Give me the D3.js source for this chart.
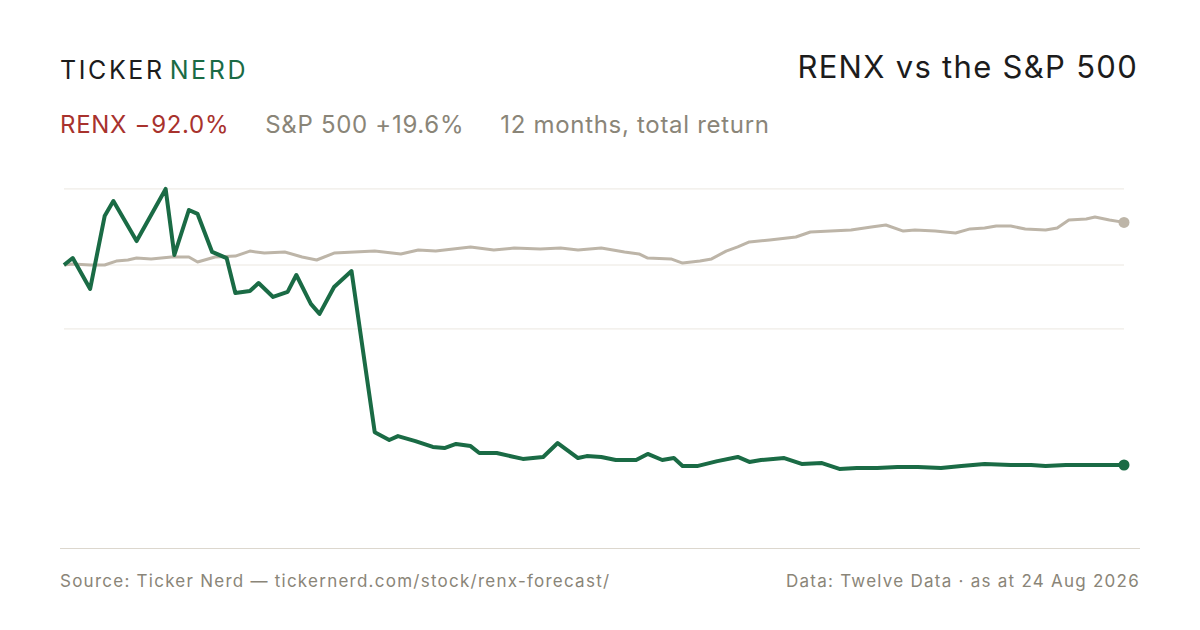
<!DOCTYPE html>
<html>
<head>
<meta charset="utf-8">
<script src="https://cdn.jsdelivr.net/npm/d3@7"></script>
<style>
  body { margin: 0; background: #fff; }
  svg { display: block; font-family: Inter, "Noto Sans", sans-serif; }
</style>
</head>
<body>
<svg id="chart" width="1200" height="630"></svg>
<script>
// days since start, % total return
var renxDays = [0,3,9,14,17,25,35,38,43,46,51,56,59,64,67,72,77,80,85,88,93,99,107,112,115,121,127,131,135,140,143,149,158,165,170,177,180,185,190,197,201,206,210,213,218,225,232,236,240,248,254,261,267,273,280,287,294,302,309,317,326,333,338,345,352,357,365];
var renxReturn = [0,3.2,-11,22.5,29.4,11,35,4.6,25.3,23.5,6,3.2,-12.9,-12,-8.3,-14.7,-12.4,-4.6,-17.9,-22.5,-10.1,-2.8,-76.9,-80.5,-78.7,-81,-83.7,-84.2,-82.3,-83.3,-86.5,-86.5,-89.2,-88.3,-81.9,-88.8,-87.9,-88.3,-89.7,-89.7,-86.9,-89.7,-88.8,-92.5,-92.5,-90.2,-88.3,-90.6,-89.7,-88.8,-91.5,-91.1,-93.8,-93.4,-93.4,-92.9,-92.9,-93.4,-92.5,-91.5,-92,-92,-92.5,-92,-92,-92,-92];
var spxDays = [0,3,9,14,18,22,25,30,37,43,46,52,59,64,69,76,82,87,93,100,107,116,122,128,140,148,155,164,171,177,185,193,198,201,209,213,219,223,228,232,236,243,252,257,264,271,278,283,289,293,300,307,312,317,321,326,331,338,342,346,352,355,360,365];
var spxReturn = [0,0.5,0,0,1.8,2.3,3.2,2.8,3.7,3.7,1.4,3.7,4.1,6.4,5.5,6,3.7,2.3,5.5,6,6.4,5.1,6.9,6.4,8.3,6.9,7.8,7.4,7.8,6.9,7.8,6,5.1,3.2,2.8,0.9,1.8,2.8,6.4,8.3,10.6,11.5,12.9,15.2,15.6,16.1,17.5,18.4,15.6,16.1,15.6,14.7,16.6,17,17.9,17.9,16.6,16.1,17,20.7,21.2,22.1,20.7,19.6];
var gridValues = [35, 0, -29.4];

var svg = d3.select('#chart');
var x = d3.scaleLinear().domain([0, 365]).range([64, 1124]);
var y = d3.scaleLinear().domain([-92, 0]).range([465, 265]);

// header
svg.append('text').attr('x', 60).attr('y', 79).attr('font-size', 25).attr('letter-spacing', 2.6)
  .attr('fill', '#1c1c1c').text('TICKER')
  .append('tspan').attr('fill', '#1a6b45').attr('dx', 5).text('NERD');
svg.append('text').attr('x', 1138).attr('y', 78).attr('text-anchor', 'end').attr('font-size', 31)
  .attr('letter-spacing', 1.3).attr('fill', '#1c1c1c').text('RENX vs the S&P 500');
var sub = svg.append('text').attr('x', 60).attr('y', 133).attr('font-size', 24).attr('letter-spacing', 0.7);
sub.append('tspan').attr('fill', '#a8322d').text('RENX \u221292.0%');
sub.append('tspan').attr('fill', '#8a8578').attr('dx', 36).text('S&P 500 +19.6%');
sub.append('tspan').attr('fill', '#8a8578').attr('dx', 36).text('12 months, total return');

// grid
svg.selectAll('.grid').data(gridValues).enter().append('line')
  .attr('x1', 64).attr('x2', 1124)
  .attr('y1', function (d) { return y(d); }).attr('y2', function (d) { return y(d); })
  .attr('stroke', '#ebe7e0').attr('stroke-width', 1);

var line = d3.line()
  .x(function (d) { return x(d[0]); })
  .y(function (d) { return y(d[1]); });

var spx = d3.zip(spxDays, spxReturn);
var renx = d3.zip(renxDays, renxReturn);

svg.append('path').datum(spx).attr('d', line).attr('fill', 'none')
  .attr('stroke', '#bdb5a8').attr('stroke-width', 3).attr('stroke-linejoin', 'round');
svg.append('path').datum(renx).attr('d', line).attr('fill', 'none')
  .attr('stroke', '#1a6b45').attr('stroke-width', 4).attr('stroke-linejoin', 'round');

svg.append('circle').attr('cx', x(spx[spx.length - 1][0])).attr('cy', y(spx[spx.length - 1][1]))
  .attr('r', 5.5).attr('fill', '#bdb5a8');
svg.append('circle').attr('cx', x(renx[renx.length - 1][0])).attr('cy', y(renx[renx.length - 1][1]))
  .attr('r', 5.5).attr('fill', '#1a6b45');

// footer
svg.append('line').attr('x1', 60).attr('x2', 1140).attr('y1', 548.5).attr('y2', 548.5)
  .attr('stroke', '#dcd7ce');
svg.append('text').attr('x', 60).attr('y', 587).attr('font-size', 17).attr('letter-spacing', 1.25)
  .attr('fill', '#8a8578')
  .text('Source: Ticker Nerd \u2014 tickernerd.com/stock/renx-forecast/');
svg.append('text').attr('x', 1140).attr('y', 587).attr('text-anchor', 'end').attr('font-size', 17)
  .attr('letter-spacing', 1.25).attr('fill', '#8a8578').text('Data: Twelve Data \u00b7 as at 24 Aug 2026');
</script>
</body>
</html>
